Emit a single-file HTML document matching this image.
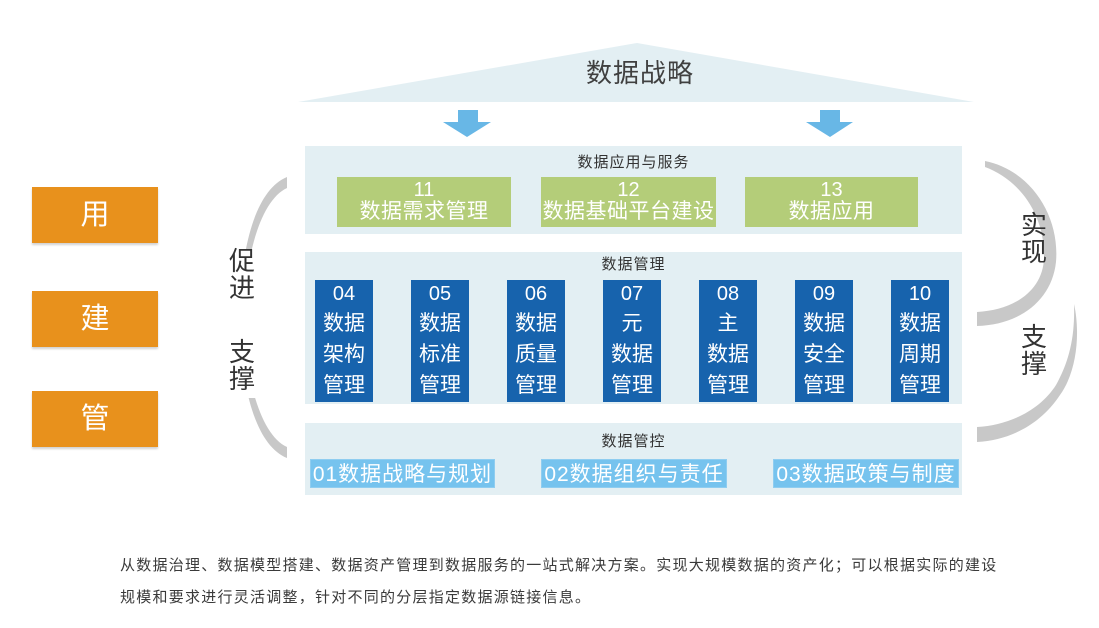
<!DOCTYPE html>
<html><head><meta charset="utf-8">
<style>
html,body{margin:0;padding:0;background:#fff;}
#c{position:relative;width:1099px;height:628px;overflow:hidden;background:#fff;font-family:"Liberation Sans","Noto Sans CJK SC",sans-serif;}
.a{position:absolute;}
.panel{position:absolute;background:#e3eff3;}
.lbl{position:absolute;left:305px;width:657px;text-align:center;font-size:15px;letter-spacing:1px;color:#333;line-height:18px;}
.g{position:absolute;top:177px;height:50px;background:#b4cd79;color:#fff;text-align:center;}
.g .n{font-size:20px;line-height:21px;margin-top:3px;}
.g .t{font-size:21px;line-height:22px;letter-spacing:0.5px;white-space:nowrap;}
.d{position:absolute;top:280px;height:122px;width:58px;background:#1763ad;color:#fff;text-align:center;}
.d .n{font-size:20px;line-height:28px;}
.d .t{font-size:21px;line-height:31px;white-space:nowrap;}
.l{position:absolute;top:459px;height:29px;background:#76c3ee;color:#fff;font-size:21px;line-height:29px;letter-spacing:1px;white-space:nowrap;text-align:center;border:1px solid #8fcdf0;box-sizing:border-box;}
.o{position:absolute;left:32px;width:126px;height:56px;background:#e8911c;color:#fff;font-size:29px;line-height:56px;text-align:center;box-shadow:0 2px 2px rgba(0,0,0,0.18);}
.v{position:absolute;font-size:26px;line-height:27px;color:#333;width:30px;text-align:center;}
.btxt{position:absolute;left:120px;font-size:15px;letter-spacing:1.25px;color:#3a3a3a;white-space:nowrap;line-height:18px;}
</style></head><body>
<div id="c">
<svg class="a" style="left:0;top:0" width="1099" height="628">
  <polygon points="298,102 637,43 974,102" fill="#e3eff3"/>
  <polygon points="458,110 478,110 478,122 491,122 467,137 443,122 458,122" fill="#68b7e6"/>
  <polygon points="820,110 840,110 840,122 853,122 830,137 806,122 820,122" fill="#68b7e6"/>
  <path d="M 287 177 C 255 190, 240 250, 240 317 C 240 385, 255 445, 287 458 L 287 447 C 261 435, 245 380, 244 317 C 245 255, 261 200, 287 188 Z" fill="#c8c8c8"/>
  <rect x="220" y="250" width="44" height="148" fill="#fff"/>
  <path d="M 985 161 C 1030 170, 1060 215, 1056 262 C 1052 300, 1020 325, 977 326 L 977 312 C 1015 310, 1043 290, 1044 258 C 1045 215, 1020 180, 985 167 Z" fill="#c8c8c8"/>
  <path d="M 1074 304 C 1080 330, 1078 370, 1060 395 C 1040 425, 1010 440, 977 442 L 977 427 C 1010 425, 1040 410, 1056 385 C 1070 360, 1075 335, 1074 304 Z" fill="#c8c8c8"/>
</svg>

<div class="a" style="left:540px;top:58px;width:200px;text-align:center;font-size:26px;line-height:30px;color:#404040;letter-spacing:1px;">数据战略</div>

<div class="panel" style="left:305px;top:146px;width:657px;height:88px;"></div>
<div class="panel" style="left:305px;top:252px;width:657px;height:152px;"></div>
<div class="panel" style="left:305px;top:423px;width:657px;height:72px;"></div>

<div class="lbl" style="top:154px;">数据应用与服务</div>
<div class="lbl" style="top:256px;">数据管理</div>
<div class="lbl" style="top:433px;">数据管控</div>

<div class="g" style="left:337px;width:174px;"><div class="n">11</div><div class="t">数据需求管理</div></div>
<div class="g" style="left:541px;width:175px;"><div class="n">12</div><div class="t">数据基础平台建设</div></div>
<div class="g" style="left:745px;width:173px;"><div class="n">13</div><div class="t">数据应用</div></div>

<div class="d" style="left:315px;"><div class="n">04</div><div class="t">数据</div><div class="t">架构</div><div class="t">管理</div></div>
<div class="d" style="left:411px;"><div class="n">05</div><div class="t">数据</div><div class="t">标准</div><div class="t">管理</div></div>
<div class="d" style="left:507px;"><div class="n">06</div><div class="t">数据</div><div class="t">质量</div><div class="t">管理</div></div>
<div class="d" style="left:603px;"><div class="n">07</div><div class="t">元</div><div class="t">数据</div><div class="t">管理</div></div>
<div class="d" style="left:699px;"><div class="n">08</div><div class="t">主</div><div class="t">数据</div><div class="t">管理</div></div>
<div class="d" style="left:795px;"><div class="n">09</div><div class="t">数据</div><div class="t">安全</div><div class="t">管理</div></div>
<div class="d" style="left:891px;"><div class="n">10</div><div class="t">数据</div><div class="t">周期</div><div class="t">管理</div></div>

<div class="l" style="left:310px;width:185px;">01数据战略与规划</div>
<div class="l" style="left:541px;width:186px;">02数据组织与责任</div>
<div class="l" style="left:773px;width:186px;">03数据政策与制度</div>

<div class="o" style="top:187px;">用</div>
<div class="o" style="top:291px;">建</div>
<div class="o" style="top:391px;">管</div>

<div class="v" style="left:227px;top:248px;">促<br>进</div>
<div class="v" style="left:227px;top:339px;">支<br>撑</div>
<div class="v" style="left:1019px;top:212px;">实<br>现</div>
<div class="v" style="left:1019px;top:324px;">支<br>撑</div>

<div class="btxt" style="top:557px;">从数据治理、数据模型搭建、数据资产管理到数据服务的一站式解决方案。实现大规模数据的资产化；可以根据实际的建设</div>
<div class="btxt" style="top:589px;">规模和要求进行灵活调整，针对不同的分层指定数据源链接信息。</div>
</div>
</body></html>
